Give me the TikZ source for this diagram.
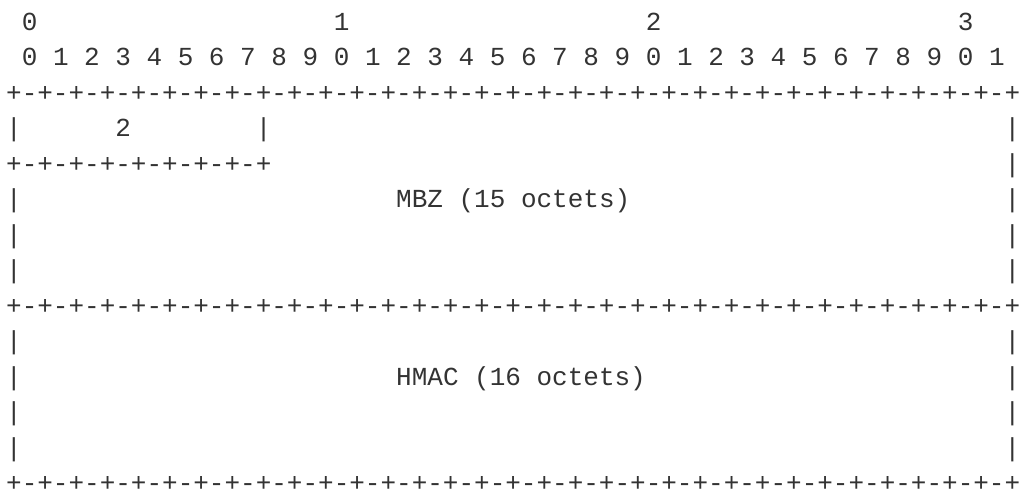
\documentclass[tikz,border=0pt]{standalone}
\usepackage{fontspec}
\newfontfamily\asciimono{Liberation Mono}
\definecolor{ink}{HTML}{333333}
\tikzset{
  txt/.style={anchor=base west, inner sep=0pt, outer sep=0pt, text=ink,
    font=\asciimono\fontsize{26pt}{26pt}\selectfont}
}
\newcommand\cellat[4]{\node[txt] (#1) at ({6.2pt+15.6pt*#2},{-30pt-35.5pt*(#3-1)}) {#4};}
\begin{document}
\begin{tikzpicture}
\useasboundingbox (0,0) rectangle (1021pt,-493pt);
\fill[white] (0,0) rectangle (1021pt,-493pt);
% line 1
\cellat{ha}{1}{1}{0}
\cellat{hb}{21}{1}{1}
\cellat{hc}{41}{1}{2}
\cellat{hd}{61}{1}{3}
% line 2
\cellat{bits}{1}{2}{0 1 2 3 4 5 6 7 8 9 0 1 2 3 4 5 6 7 8 9 0 1 2 3 4 5 6 7 8 9 0 1}
% line 3
\cellat{rulea}{0}{3}{+-+-+-+-+-+-+-+-+-+-+-+-+-+-+-+-+-+-+-+-+-+-+-+-+-+-+-+-+-+-+-+-+}
% line 4
\cellat{l4a}{0}{4}{|}
\cellat{l4b}{7}{4}{2}
\cellat{l4c}{16}{4}{|}
\cellat{l4d}{64}{4}{|}
% line 5
\cellat{l5a}{0}{5}{+-+-+-+-+-+-+-+-+}
\cellat{l5b}{64}{5}{|}
% line 6
\cellat{l6a}{0}{6}{|}
\cellat{mbz}{25}{6}{MBZ (15 octets)}
\cellat{l6b}{64}{6}{|}
% lines 7-8
\cellat{l7a}{0}{7}{|}
\cellat{l7b}{64}{7}{|}
\cellat{l8a}{0}{8}{|}
\cellat{l8b}{64}{8}{|}
% line 9
\cellat{ruleb}{0}{9}{+-+-+-+-+-+-+-+-+-+-+-+-+-+-+-+-+-+-+-+-+-+-+-+-+-+-+-+-+-+-+-+-+}
% line 10
\cellat{l10a}{0}{10}{|}
\cellat{l10b}{64}{10}{|}
% line 11
\cellat{l11a}{0}{11}{|}
\cellat{hmac}{25}{11}{HMAC (16 octets)}
\cellat{l11b}{64}{11}{|}
% lines 12-13
\cellat{l12a}{0}{12}{|}
\cellat{l12b}{64}{12}{|}
\cellat{l13a}{0}{13}{|}
\cellat{l13b}{64}{13}{|}
% line 14
\cellat{rulec}{0}{14}{+-+-+-+-+-+-+-+-+-+-+-+-+-+-+-+-+-+-+-+-+-+-+-+-+-+-+-+-+-+-+-+-+}
\end{tikzpicture}
\end{document}
